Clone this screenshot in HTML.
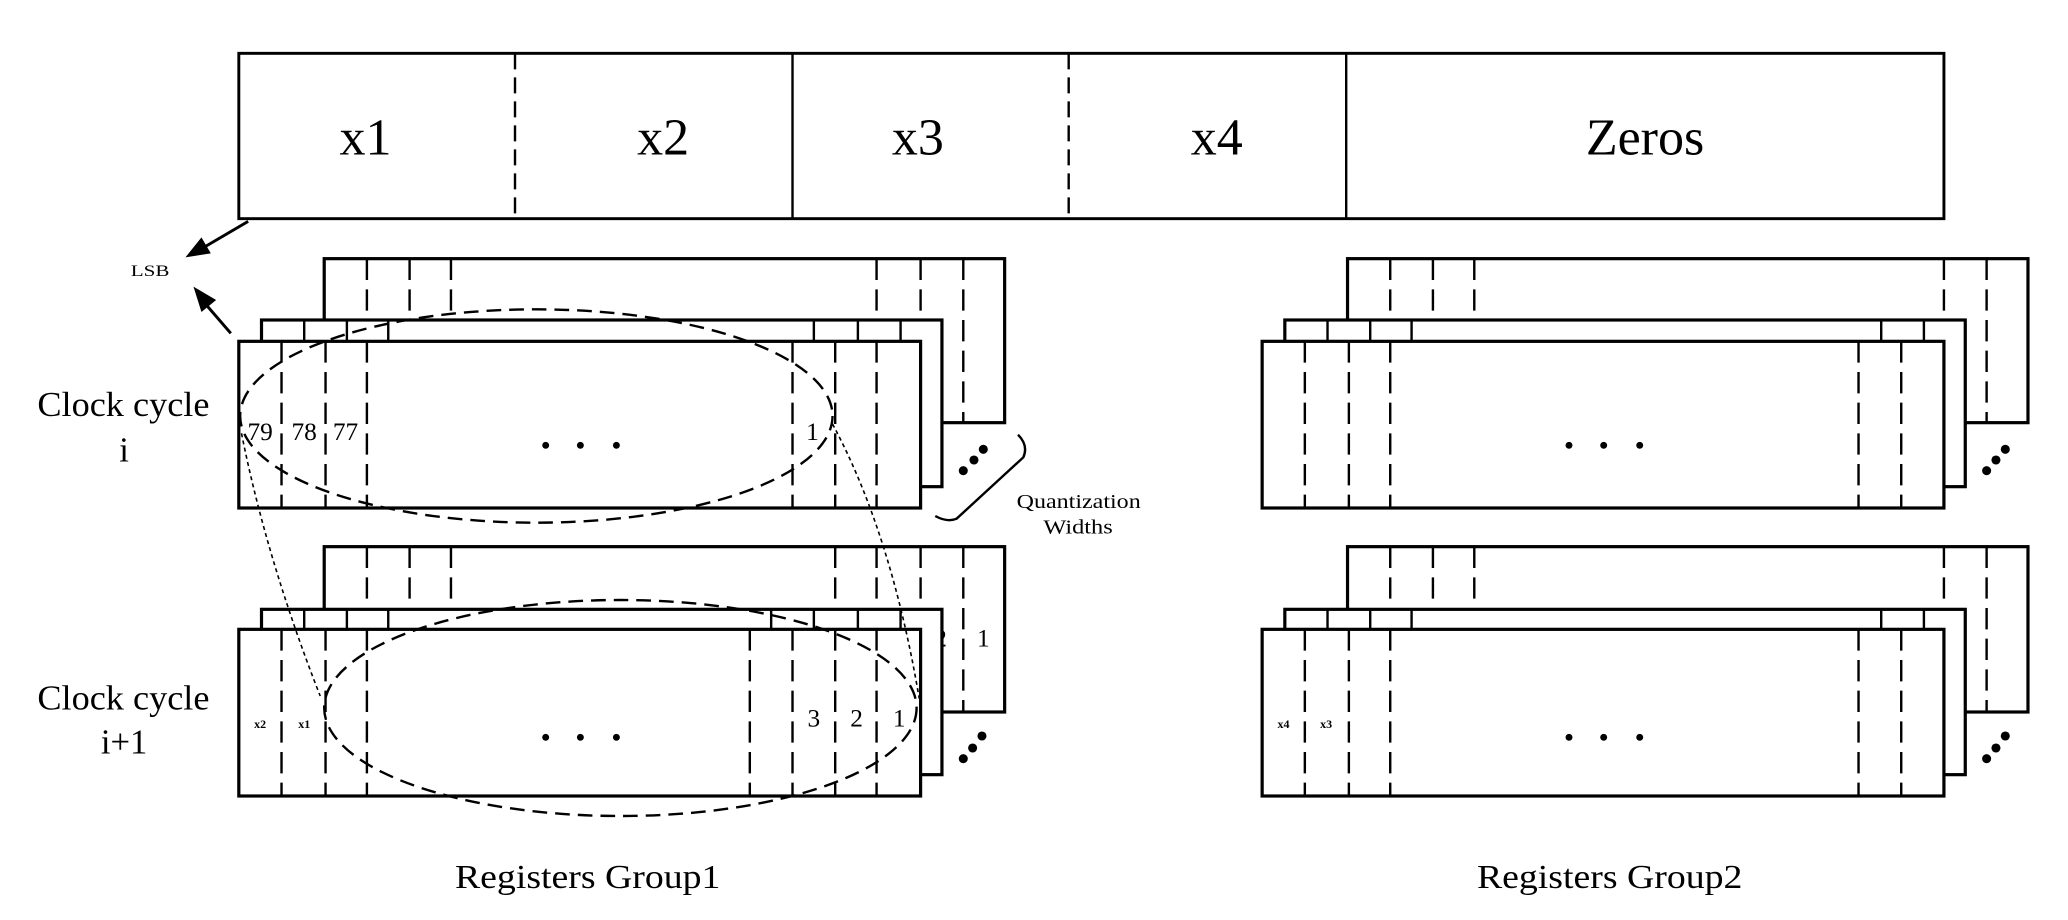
<!DOCTYPE html>
<html><head><meta charset="utf-8"><style>
html,body{margin:0;padding:0;background:#fff;}
svg{display:block;}
text{font-family:"Liberation Serif",serif;fill:#000;}
</style></head><body>
<svg width="2068" height="920" viewBox="0 0 1550 690" preserveAspectRatio="none" xmlns="http://www.w3.org/2000/svg">
<!-- top bar -->
<rect x="179" y="40" width="1278" height="124" fill="#fff" stroke="#000" stroke-width="2.2"/>
<g stroke="#000" stroke-width="1.8">
<line x1="386" y1="40" x2="386" y2="164" stroke-dasharray="12 6"/>
<line x1="594" y1="40" x2="594" y2="164"/>
<line x1="801" y1="40" x2="801" y2="164" stroke-dasharray="12 6"/>
<line x1="1009" y1="40" x2="1009" y2="164"/>
</g>
<g font-size="39" text-anchor="middle">
<text x="274" y="116">x1</text><text x="497" y="116">x2</text><text x="688" y="116">x3</text><text x="912" y="116">x4</text><text x="1233" y="116">Zeros</text>
</g>
<!-- LSB arrows -->
<g stroke="#000" stroke-width="2.2">
<line x1="186" y1="166" x2="152" y2="186"/>
<line x1="173" y1="250" x2="154" y2="228"/>
</g>
<polygon points="139,193 151,178 158,190" fill="#000"/>
<polygon points="145,215 162,225 151,234" fill="#000"/>
<text x="98" y="207" font-size="12" textLength="29" lengthAdjust="spacingAndGlyphs">LSB</text>

<!-- labels -->
<g font-size="26">
<text x="28" y="312" textLength="129" lengthAdjust="spacingAndGlyphs">Clock cycle</text><text x="93" y="346" text-anchor="middle">i</text>
<text x="28" y="532" textLength="129" lengthAdjust="spacingAndGlyphs">Clock cycle</text><text x="93" y="565" text-anchor="middle">i+1</text>
<text x="341" y="666" font-size="25" textLength="199" lengthAdjust="spacingAndGlyphs">Registers Group1</text>
<text x="1107" y="666" font-size="25" textLength="199" lengthAdjust="spacingAndGlyphs">Registers Group2</text>
</g>

<!-- GROUP1 TOP -->
<g stroke="#000">
<rect x="243" y="194" width="510" height="123" fill="#fff" stroke-width="2.4"/>
<g stroke-width="1.8" stroke-dasharray="16 7">
<line x1="275" y1="194" x2="275" y2="317"/><line x1="307" y1="194" x2="307" y2="317"/><line x1="338" y1="194" x2="338" y2="317"/>
<line x1="657" y1="194" x2="657" y2="317"/><line x1="690" y1="194" x2="690" y2="317"/><line x1="722" y1="194" x2="722" y2="317"/>
</g>
<rect x="196" y="240" width="510" height="125" fill="#fff" stroke-width="2.4"/>
<g stroke-width="1.8">
<line x1="228" y1="240" x2="228" y2="256"/><line x1="260" y1="240" x2="260" y2="256"/><line x1="291" y1="240" x2="291" y2="256"/>
<line x1="610" y1="240" x2="610" y2="256"/><line x1="643" y1="240" x2="643" y2="256"/><line x1="675" y1="240" x2="675" y2="256"/>
</g>
<rect x="179" y="256" width="511" height="125" fill="#fff" stroke-width="2.4"/>
<g stroke-width="1.8" stroke-dasharray="16 7">
<line x1="211" y1="256" x2="211" y2="381"/><line x1="244" y1="256" x2="244" y2="381"/><line x1="275" y1="256" x2="275" y2="381"/>
<line x1="594" y1="256" x2="594" y2="381"/><line x1="626" y1="256" x2="626" y2="381"/><line x1="657" y1="256" x2="657" y2="381"/>
</g>
</g>
<g font-size="19" text-anchor="middle">
<text x="195" y="330">79</text><text x="228" y="330">78</text><text x="259" y="330">77</text><text x="609" y="330">1</text>
</g>
<g fill="#000"><circle cx="409" cy="334" r="2.6"/><circle cx="435" cy="334" r="2.6"/><circle cx="462" cy="334" r="2.6"/>
<circle cx="722" cy="353" r="3.4"/><circle cx="730" cy="345" r="3.4"/><circle cx="737" cy="337" r="3.4"/></g>

<!-- GROUP1 BOTTOM -->
<g stroke="#000">
<rect x="243" y="410" width="510" height="124" fill="#fff" stroke-width="2.4"/>
<g stroke-width="1.8" stroke-dasharray="16 7">
<line x1="275" y1="410" x2="275" y2="534"/><line x1="307" y1="410" x2="307" y2="534"/><line x1="338" y1="410" x2="338" y2="534"/>
<line x1="626" y1="410" x2="626" y2="534"/><line x1="657" y1="410" x2="657" y2="534"/><line x1="690" y1="410" x2="690" y2="534"/><line x1="722" y1="410" x2="722" y2="534"/>
</g>
</g>
<g font-size="19" text-anchor="middle"><text x="705" y="485">2</text><text x="737" y="485">1</text></g>
<g stroke="#000">
<rect x="196" y="457" width="510" height="124" fill="#fff" stroke-width="2.4"/>
<g stroke-width="1.8">
<line x1="228" y1="457" x2="228" y2="472"/><line x1="260" y1="457" x2="260" y2="472"/><line x1="291" y1="457" x2="291" y2="472"/>
<line x1="578" y1="457" x2="578" y2="472"/><line x1="610" y1="457" x2="610" y2="472"/><line x1="643" y1="457" x2="643" y2="472"/><line x1="675" y1="457" x2="675" y2="472"/>
</g>
<rect x="179" y="472" width="511" height="125" fill="#fff" stroke-width="2.4"/>
<g stroke-width="1.8" stroke-dasharray="16 7">
<line x1="211" y1="472" x2="211" y2="597"/><line x1="244" y1="472" x2="244" y2="597"/><line x1="275" y1="472" x2="275" y2="597"/>
<line x1="562" y1="472" x2="562" y2="597"/><line x1="594" y1="472" x2="594" y2="597"/><line x1="626" y1="472" x2="626" y2="597"/><line x1="657" y1="472" x2="657" y2="597"/>
</g>
</g>
<g font-size="9" font-weight="bold" text-anchor="middle"><text x="195" y="546">x2</text><text x="228" y="546">x1</text></g>
<g font-size="19" text-anchor="middle"><text x="610" y="545">3</text><text x="642" y="545">2</text><text x="674" y="545">1</text></g>
<g fill="#000"><circle cx="409" cy="553" r="2.6"/><circle cx="435" cy="553" r="2.6"/><circle cx="462" cy="553" r="2.6"/>
<circle cx="722" cy="569" r="3.4"/><circle cx="729" cy="561" r="3.4"/><circle cx="736" cy="552" r="3.4"/></g>

<!-- ellipses and dotted connectors -->
<g fill="none" stroke="#000" stroke-width="1.8" stroke-dasharray="11 6">
<ellipse cx="402" cy="312" rx="222" ry="80"/>
<ellipse cx="465" cy="531" rx="222" ry="81"/>
</g>
<g fill="none" stroke="#000" stroke-width="1.2" stroke-dasharray="3 2.5">
<path d="M181,325 Q200,420 240,522"/>
<path d="M624,318 Q668,400 689,524"/>
</g>
<!-- bracket -->
<path d="M763,326 Q771,334 767,343 L717,389 Q710,392 701,387" fill="none" stroke="#000" stroke-width="1.8"/>
<g font-size="15"><text x="762" y="381" textLength="93" lengthAdjust="spacingAndGlyphs">Quantization</text><text x="782" y="400" textLength="52" lengthAdjust="spacingAndGlyphs">Widths</text></g>

<!-- GROUP2 TOP -->
<g stroke="#000">
<rect x="1010" y="194" width="510" height="123" fill="#fff" stroke-width="2.4"/>
<g stroke-width="1.8" stroke-dasharray="16 7">
<line x1="1042" y1="194" x2="1042" y2="317"/><line x1="1074" y1="194" x2="1074" y2="317"/><line x1="1105" y1="194" x2="1105" y2="317"/>
<line x1="1457" y1="194" x2="1457" y2="317"/><line x1="1489" y1="194" x2="1489" y2="317"/>
</g>
<rect x="963" y="240" width="510" height="125" fill="#fff" stroke-width="2.4"/>
<g stroke-width="1.8">
<line x1="995" y1="240" x2="995" y2="256"/><line x1="1027" y1="240" x2="1027" y2="256"/><line x1="1058" y1="240" x2="1058" y2="256"/>
<line x1="1410" y1="240" x2="1410" y2="256"/><line x1="1442" y1="240" x2="1442" y2="256"/>
</g>
<rect x="946" y="256" width="511" height="125" fill="#fff" stroke-width="2.4"/>
<g stroke-width="1.8" stroke-dasharray="16 7">
<line x1="978" y1="256" x2="978" y2="381"/><line x1="1011" y1="256" x2="1011" y2="381"/><line x1="1042" y1="256" x2="1042" y2="381"/>
<line x1="1393" y1="256" x2="1393" y2="381"/><line x1="1425" y1="256" x2="1425" y2="381"/>
</g>
</g>
<g fill="#000"><circle cx="1176" cy="334" r="2.6"/><circle cx="1202" cy="334" r="2.6"/><circle cx="1229" cy="334" r="2.6"/>
<circle cx="1489" cy="353" r="3.4"/><circle cx="1496" cy="345" r="3.4"/><circle cx="1503" cy="337" r="3.4"/></g>

<!-- GROUP2 BOTTOM -->
<g stroke="#000">
<rect x="1010" y="410" width="510" height="124" fill="#fff" stroke-width="2.4"/>
<g stroke-width="1.8" stroke-dasharray="16 7">
<line x1="1042" y1="410" x2="1042" y2="534"/><line x1="1074" y1="410" x2="1074" y2="534"/><line x1="1105" y1="410" x2="1105" y2="534"/>
<line x1="1457" y1="410" x2="1457" y2="534"/><line x1="1489" y1="410" x2="1489" y2="534"/>
</g>
<rect x="963" y="457" width="510" height="124" fill="#fff" stroke-width="2.4"/>
<g stroke-width="1.8">
<line x1="995" y1="457" x2="995" y2="472"/><line x1="1027" y1="457" x2="1027" y2="472"/><line x1="1058" y1="457" x2="1058" y2="472"/>
<line x1="1410" y1="457" x2="1410" y2="472"/><line x1="1442" y1="457" x2="1442" y2="472"/>
</g>
<rect x="946" y="472" width="511" height="125" fill="#fff" stroke-width="2.4"/>
<g stroke-width="1.8" stroke-dasharray="16 7">
<line x1="978" y1="472" x2="978" y2="597"/><line x1="1011" y1="472" x2="1011" y2="597"/><line x1="1042" y1="472" x2="1042" y2="597"/>
<line x1="1393" y1="472" x2="1393" y2="597"/><line x1="1425" y1="472" x2="1425" y2="597"/>
</g>
</g>
<g font-size="9" font-weight="bold" text-anchor="middle"><text x="962" y="546">x4</text><text x="994" y="546">x3</text></g>
<g fill="#000"><circle cx="1176" cy="553" r="2.6"/><circle cx="1202" cy="553" r="2.6"/><circle cx="1229" cy="553" r="2.6"/>
<circle cx="1489" cy="569" r="3.4"/><circle cx="1496" cy="561" r="3.4"/><circle cx="1503" cy="552" r="3.4"/></g>
</svg>
</body></html>
